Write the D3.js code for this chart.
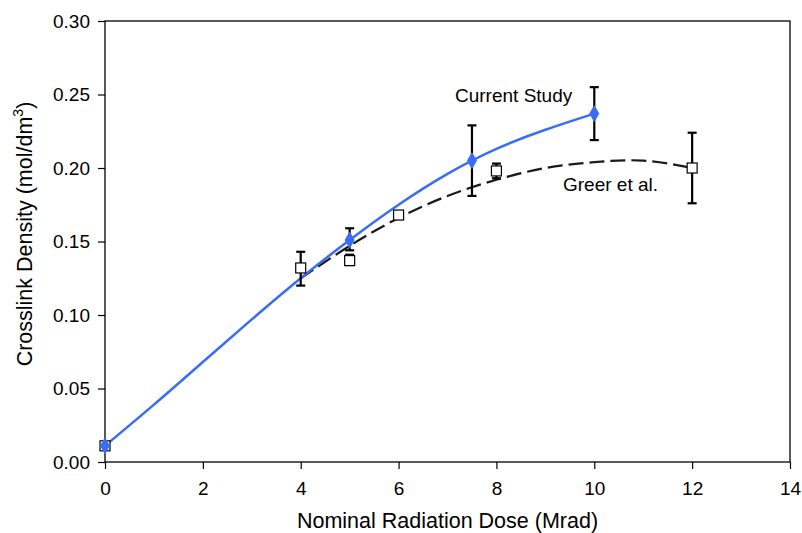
<!DOCTYPE html>
<html>
<head>
<meta charset="utf-8">
<script src="https://cdn.jsdelivr.net/npm/d3@7"></script>
<style>
  body { margin: 0; background: #fff; }
  svg text { font-family: "Liberation Sans", Arial, sans-serif; fill: #000; }
</style>
</head>
<body>
<div id="chart"></div>
<script>
// current study (diamonds)
const studyDose = [0, 5, 7.5, 10];
const studyDensity = [0.011, 0.151, 0.205, 0.237];
const studyLow = [0.009, 0.144, 0.181, 0.219];
const studyHigh = [0.013, 0.159, 0.229, 0.255];

// Greer et al. (squares)
const greerDose = [0, 4, 5, 6, 8, 12];
const greerDensity = [0.011, 0.132, 0.137, 0.168, 0.198, 0.200];
const greerLow = [0.011, 0.120, 0.134, 0.168, 0.193, 0.176];
const greerHigh = [0.011, 0.143, 0.141, 0.168, 0.203, 0.224];

// fitted curves
const studyFitDose = [0, 1, 2, 3, 4, 5, 6, 7, 8, 9, 10];
const studyFitDensity = [0.011, 0.039, 0.068, 0.097, 0.125, 0.151, 0.175, 0.196, 0.213, 0.226, 0.237];
const greerFitDose = [4, 5, 6, 7, 8, 9, 10, 11, 12];
const greerFitDensity = [0.125, 0.147, 0.166, 0.181, 0.192, 0.200, 0.204, 0.205, 0.200];

const xTicks = [0, 2, 4, 6, 8, 10, 12, 14];
const yTicks = [0, 0.05, 0.10, 0.15, 0.20, 0.25, 0.30];

const width = 802;
const height = 533;
const margin = { top: 21, right: 12, bottom: 71, left: 105 };

const svg = d3.select('#chart').append('svg')
  .attr('width', width)
  .attr('height', height);

const x = d3.scaleLinear().domain([0, 14]).range([margin.left, width - margin.right]);
const y = d3.scaleLinear().domain([0, 0.30]).range([height - margin.bottom, margin.top]);

// frame
svg.append('rect')
  .attr('x', x(0))
  .attr('y', y(0.30))
  .attr('width', x(14) - x(0))
  .attr('height', y(0) - y(0.30))
  .attr('fill', 'none')
  .attr('stroke', '#000')
  .attr('stroke-width', 1.3);

const xAxis = svg.append('g')
  .attr('transform', `translate(0,${y(0)})`)
  .call(d3.axisBottom(x).tickValues(xTicks).tickSize(7).tickPadding(13).tickFormat(d3.format('d')));
const yAxis = svg.append('g')
  .attr('transform', `translate(${x(0)},0)`)
  .call(d3.axisLeft(y).tickValues(yTicks).tickSize(7).tickPadding(8).tickFormat(d3.format('.2f')));

[xAxis, yAxis].forEach((g) => {
  g.select('.domain').remove();
  g.selectAll('.tick line').attr('stroke', '#000').attr('stroke-width', 1.2);
  g.selectAll('.tick text').style('font-size', '19px').attr('fill', '#000');
});

// axis titles
svg.append('text')
  .attr('x', (x(0) + x(14)) / 2)
  .attr('y', 528)
  .attr('text-anchor', 'middle')
  .style('font-size', '21.5px')
  .text('Nominal Radiation Dose (Mrad)');

const yTitle = svg.append('text')
  .attr('transform', `translate(32,234) rotate(-90)`)
  .attr('text-anchor', 'middle')
  .style('font-size', '21.5px');
yTitle.append('tspan').text('Crosslink Density (mol/dm');
yTitle.append('tspan').attr('dy', -9).style('font-size', '14px').text('3');
yTitle.append('tspan').attr('dy', 9).text(')');

// fitted lines
const line = d3.line()
  .x(d => x(d[0]))
  .y(d => y(d[1]))
  .curve(d3.curveNatural);

svg.append('path')
  .datum(greerFitDose.map((d, i) => [d, greerFitDensity[i]]))
  .attr('d', line)
  .attr('fill', 'none')
  .attr('stroke', '#1a1a1a')
  .attr('stroke-width', 2.2)
  .attr('stroke-dasharray', '15,6');

svg.append('path')
  .datum(studyFitDose.map((d, i) => [d, studyFitDensity[i]]))
  .attr('d', line)
  .attr('fill', 'none')
  .attr('stroke', '#3a6df6')
  .attr('stroke-width', 2.5);

// error bars
const errorBars = (dose, low, high) => {
  const g = svg.append('g')
    .attr('stroke', '#000')
    .attr('stroke-width', 2.2);
  dose.forEach((d, i) => {
    if (high[i] - low[i] < 0.001) return;
    g.append('line')
      .attr('x1', x(d)).attr('x2', x(d))
      .attr('y1', y(low[i])).attr('y2', y(high[i]));
    [low[i], high[i]].forEach((v) => {
      g.append('line')
        .attr('x1', x(d) - 4.5).attr('x2', x(d) + 4.5)
        .attr('y1', y(v)).attr('y2', y(v));
    });
  });
};
errorBars(greerDose, greerLow, greerHigh);
errorBars(studyDose, studyLow, studyHigh);

// markers
svg.append('g').selectAll('rect')
  .data(greerDose.map((d, i) => [d, greerDensity[i]]))
  .join('rect')
  .attr('x', d => x(d[0]) - 5)
  .attr('y', d => y(d[1]) - 5)
  .attr('width', 10)
  .attr('height', 10)
  .attr('fill', '#fff')
  .attr('stroke', '#000')
  .attr('stroke-width', 1.2);

svg.append('g').selectAll('path')
  .data(studyDose.map((d, i) => [d, studyDensity[i]]))
  .join('path')
  .attr('transform', d => `translate(${x(d[0])},${y(d[1])})`)
  .attr('d', d3.symbol(d3.symbolDiamond, 70))
  .attr('fill', '#3a6df6')
  .attr('stroke', '#3a6df6')
  .attr('stroke-width', 1);

// series labels
svg.append('text')
  .attr('x', 455)
  .attr('y', 102)
  .style('font-size', '19px')
  .text('Current Study');

svg.append('text')
  .attr('x', 563)
  .attr('y', 191)
  .style('font-size', '19px')
  .text('Greer et al.');
</script>
</body>
</html>
